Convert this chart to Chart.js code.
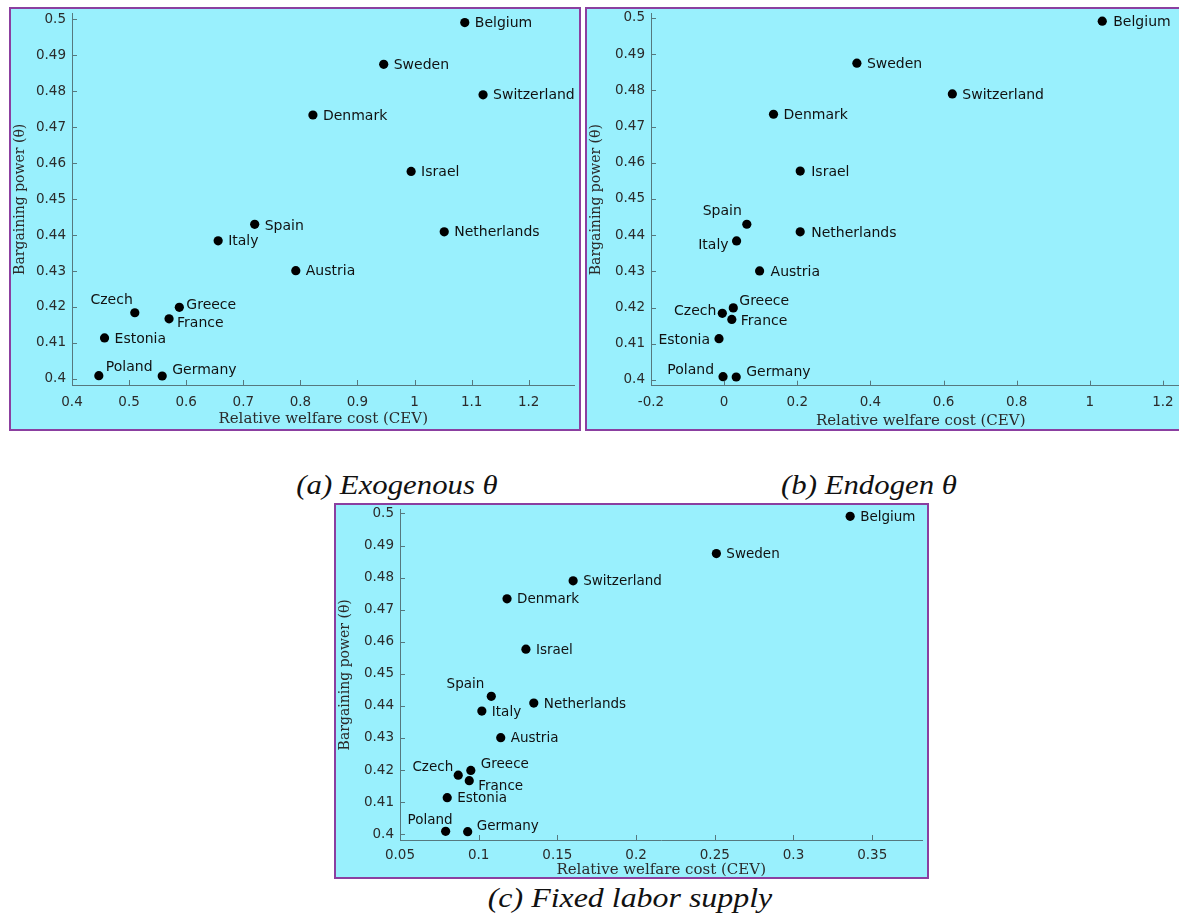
<!DOCTYPE html>
<html>
<head>
<meta charset="utf-8">
<script src="https://cdn.jsdelivr.net/npm/chart.js@4.4.1/dist/chart.umd.min.js"></script>
<style>
html, body { margin:0; padding:0; background:#fff; width:1179px; height:917px; overflow:hidden; position:relative; }
.panel { position:absolute; border:2px solid #8b3fa0; background:#99f0fd; }
.panel canvas { display:block; }
.cap { position:absolute; font-family:"Liberation Serif", serif; font-style:italic; line-height:1; color:#111;
       white-space:nowrap; transform:translateX(-50%) scaleX(1.14); }
</style>
</head>
<body>

<div class="panel" style="left:9px;top:7px;width:568px;height:420px"><canvas id="chartA" width="568" height="420"></canvas></div>
<div class="panel" style="left:585px;top:7px;width:608px;height:420px"><canvas id="chartB" width="608" height="420"></canvas></div>
<div class="panel" style="left:334px;top:503px;width:591px;height:372px"><canvas id="chartC" width="591" height="372"></canvas></div>

<div class="cap" style="left:397px;top:472px;font-size:27px">(a) Exogenous θ</div>
<div class="cap" style="left:869px;top:472px;font-size:27px">(b) Endogen θ</div>
<div class="cap" style="left:630px;top:884px;font-size:28px">(c) Fixed labor supply</div>

<script>
/* =========================
   DATA
========================= */

const countries = ["Belgium","Sweden","Switzerland","Denmark","Israel","Netherlands","Austria",
                   "Spain","Italy","Greece","Czech","France","Estonia","Poland","Germany"];

// bargaining power (theta), same in all three panels
const bargainingPower = [0.4991, 0.4875, 0.4790, 0.4734, 0.4577, 0.4409, 0.4301,
                         0.4430, 0.4384, 0.4199, 0.4184, 0.4167, 0.4114, 0.4009, 0.4008];

// relative welfare cost (CEV)
const cevExogenous  = [1.088, 0.946, 1.120, 0.822, 0.994, 1.052, 0.792,
                       0.720, 0.656, 0.588, 0.510, 0.570, 0.457, 0.447, 0.558];
const cevEndogenous = [1.034, 0.363, 0.624, 0.135, 0.208, 0.208, 0.097,
                       0.062, 0.034, 0.025, -0.005, 0.021, -0.014, -0.003, 0.033];
const cevFixedLabor = [0.336, 0.251, 0.160, 0.118, 0.130, 0.135, 0.114,
                       0.108, 0.102, 0.095, 0.087, 0.094, 0.080, 0.079, 0.093];

// tick labels
const yTicks  = [0.4, 0.41, 0.42, 0.43, 0.44, 0.45, 0.46, 0.47, 0.48, 0.49, 0.5];
const xTicksA = [0.4, 0.5, 0.6, 0.7, 0.8, 0.9, 1, 1.1, 1.2];
const xTicksB = [-0.2, 0, 0.2, 0.4, 0.6, 0.8, 1, 1.2];
const xTicksC = [0.05, 0.1, 0.15, 0.2, 0.25, 0.3, 0.35];

const xTitle = "Relative welfare cost (CEV)";
const yTitle = "Bargaining power (\u03B8)";

/* =========================
   LABEL PLACEMENT  [dx, dy, align]
========================= */

const placeA = {
    Belgium:[10,1], Sweden:[10,1], Switzerland:[10,1], Denmark:[10,1], Israel:[10,1],
    Netherlands:[10,1], Austria:[10,1], Spain:[10,2], Italy:[10,1], Greece:[7,-2],
    Czech:[-2,-12,"right"], France:[8,5], Estonia:[10,1], Poland:[7,-8], Germany:[10,-6]
};
const placeB = {
    Belgium:[11,1], Sweden:[10,1], Switzerland:[10,1], Denmark:[10,1], Israel:[11,1],
    Netherlands:[11,1], Austria:[11,1], Spain:[-5,-13,"right"], Italy:[-8,4,"right"],
    Greece:[6,-7], Czech:[-6,-2,"right"], France:[9,2], Estonia:[-9,2,"right"],
    Poland:[-9,-6,"right"], Germany:[10,-5]
};
const placeC = {
    Belgium:[10,1], Sweden:[10,1], Switzerland:[10,1], Denmark:[10,1], Israel:[10,1],
    Netherlands:[10,1], Austria:[10,1], Spain:[-7,-12,"right"], Italy:[10,1],
    Greece:[10,-6], Czech:[-5,-8,"right"], France:[9,6], Estonia:[10,1],
    Poland:[7,-11,"right"], Germany:[9,-5]
};

/* =========================
   PLUGINS
========================= */

const AXIS_COLOR = "#56787e";

Chart.defaults.font.family = '"DejaVu Sans", sans-serif';
Chart.defaults.color = "#2b2b2b";

// ticks pointing into the plot
const inwardTicks = {
    id: "inwardTicks",
    afterDraw(chart){
        const ctx = chart.ctx;
        const {left, bottom} = chart.chartArea;
        const xs = chart.scales.x, ys = chart.scales.y;
        ctx.save();
        ctx.strokeStyle = AXIS_COLOR;
        ctx.lineWidth = 1;
        ctx.beginPath();
        xs.ticks.forEach(t=>{
            const px = Math.round(xs.getPixelForValue(t.value)) + 0.5;
            ctx.moveTo(px, bottom);
            ctx.lineTo(px, bottom - 5);
        });
        ys.ticks.forEach(t=>{
            const py = Math.round(ys.getPixelForValue(t.value)) + 0.5;
            ctx.moveTo(left, py);
            ctx.lineTo(left + 5, py);
        });
        ctx.stroke();
        ctx.restore();
    }
};

// country names next to the dots
const countryLabels = {
    id: "countryLabels",
    afterDatasetsDraw(chart, args, opts){
        const ctx = chart.ctx;
        const meta = chart.getDatasetMeta(0);
        ctx.save();
        ctx.font = opts.size + 'px "DejaVu Sans", sans-serif';
        ctx.fillStyle = "#111";
        ctx.textBaseline = "middle";
        meta.data.forEach((pt, i)=>{
            const name = countries[i];
            const p = opts.place[name] || [10, 1];
            ctx.textAlign = p[2] || "left";
            ctx.fillText(name, pt.x + p[0], pt.y + p[1]);
        });
        ctx.restore();
    }
};

/* =========================
   CHARTS
========================= */

function makePanel(id, cev, xTicks, xMin, xMax, yMin, yMax, area, place, opt){

    const canvas = document.getElementById(id);
    const W = canvas.width, H = canvas.height;

    return new Chart(canvas, {
        type: "scatter",
        data: {
            datasets: [{
                data: cev.map((x, i)=>({x: x, y: bargainingPower[i]})),
                backgroundColor: "#000",
                borderWidth: 0,
                pointRadius: 4.6
            }]
        },
        options: {
            responsive: false,
            animation: false,
            devicePixelRatio: 1,
            events: [],
            layout: { padding: { top: area.top, right: W - area.right, left: 0, bottom: 0 } },
            plugins: {
                legend: { display: false },
                tooltip: { enabled: false },
                countryLabels: { place: place, size: opt.labelSize }
            },
            scales: {
                x: {
                    type: "linear",
                    min: xMin, max: xMax,
                    afterBuildTicks: s=>{ s.ticks = xTicks.map(v=>({value: v})); },
                    afterFit: s=>{ s.height = H - area.bottom; s.paddingLeft = 0; s.paddingRight = 0; },
                    grid: { display: false, drawTicks: false },
                    border: { display: true, color: AXIS_COLOR, width: 1 },
                    ticks: { padding: opt.xPad, font: { size: 13.5 }, maxRotation: 0, callback: v=>String(v) },
                    title: {
                        display: true, text: xTitle, color: "#2b2b2b",
                        font: { family: '"DejaVu Serif", serif', size: 15, lineHeight: opt.xTitleLH },
                        padding: 0
                    }
                },
                y: {
                    type: "linear",
                    min: yMin, max: yMax,
                    afterBuildTicks: s=>{ s.ticks = yTicks.map(v=>({value: v})); },
                    afterFit: s=>{ s.width = area.left; s.paddingTop = 0; s.paddingBottom = 0; },
                    grid: { display: false, drawTicks: false },
                    border: { display: true, color: AXIS_COLOR, width: 1 },
                    ticks: { padding: 6, font: { size: 13.5 }, callback: v=>String(v) },
                    title: {
                        display: true, text: yTitle, color: "#2b2b2b",
                        font: { family: '"DejaVu Serif", serif', size: 14, lineHeight: 1.3 },
                        padding: 0
                    }
                }
            }
        },
        plugins: [inwardTicks, countryLabels]
    });
}

makePanel("chartA", cevExogenous, xTicksA, 0.4, 1.28, 0.3983, 0.5016,
          {left: 61, top: 1, right: 568, bottom: 376}, placeA,
          {labelSize: 14, xPad: 9, xTitleLH: 1.33});

makePanel("chartB", cevEndogenous, xTicksB, -0.2, 1.275, 0.3984, 0.5012,
          {left: 64, top: 1.5, right: 608, bottom: 376.7}, placeB,
          {labelSize: 14, xPad: 9, xTitleLH: 1.1});

makePanel("chartC", cevFixedLabor, xTicksC, 0.05, 0.3819, 0.3982, 0.5012,
          {left: 64, top: 2, right: 591, bottom: 335}, placeC,
          {labelSize: 13.5, xPad: 7, xTitleLH: 0.95});
</script>
</body>
</html>
